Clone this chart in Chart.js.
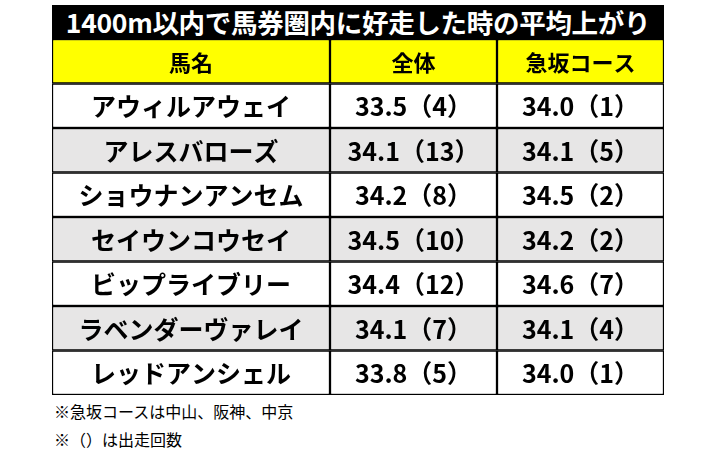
<!DOCTYPE html>
<html><head><meta charset="utf-8">
<script src="https://cdn.jsdelivr.net/npm/chart.js@4"></script>
<style>
body{margin:0;background:#fff;font-family:"Noto Sans CJK JP",sans-serif;}
#title{position:absolute;left:52px;top:5px;width:612px;height:34px;background:#000;color:#fff;font-weight:bold;font-size:26.5px;line-height:34px;text-align:center;letter-spacing:-0.3px;}
#wrap{position:absolute;left:51px;top:38px;width:614px;height:358px;}
.note{position:absolute;left:54px;font-size:16px;color:#000;}
</style></head><body>
<div id="title">1400m以内で馬券圏内に好走した時の平均上がり</div>
<div id="wrap"><canvas id="c"></canvas></div>
<div class="note" style="top:399px">※急坂コースは中山、阪神、中京</div>
<div class="note" style="top:427px">※（）は出走回数</div>
<script>
const headers = ["馬名", "全体", "急坂コース"];
const horses = ["アウィルアウェイ", "アレスバローズ", "ショウナンアンセム", "セイウンコウセイ", "ビップライブリー", "ラベンダーヴァレイ", "レッドアンシェル"];
const allAvg = [33.5, 34.1, 34.2, 34.5, 34.4, 34.1, 33.8];
const allRuns = [4, 13, 8, 10, 12, 7, 5];
const slopeAvg = [34.0, 34.1, 34.5, 34.2, 34.6, 34.1, 34.0];
const slopeRuns = [1, 5, 2, 2, 7, 4, 1];

const colWidths = [278, 167, 167];
const rowLabels = ["header", ...horses];
const fmt = (v, n) => v.toFixed(1) + "（" + n + "）";
const cellText = [
  [headers[0], ...horses],
  [headers[1], ...allAvg.map((v, i) => fmt(v, allRuns[i]))],
  [headers[2], ...slopeAvg.map((v, i) => fmt(v, slopeRuns[i]))]
];
const rowColor = rowLabels.map((r, i) => i === 0 ? "#ffff00" : (i % 2 === 0 ? "#e7e6e6" : "#ffffff"));

const textPlugin = {
  id: "cellText",
  afterDatasetsDraw(chart) {
    const ctx = chart.ctx;
    ctx.save();
    ctx.fillStyle = "#000";
    ctx.textAlign = "center";
    ctx.textBaseline = "middle";
    chart.data.datasets.forEach((ds, d) => {
      chart.getDatasetMeta(d).data.forEach((el, i) => {
        ctx.font = (i === 0 ? "bold 22px" : "bold 25px") + ' "Noto Sans CJK JP"';
        ctx.fillText(cellText[d][i], (el.x + el.base) / 2, el.y + 1);
      });
    });
    ctx.restore();
  }
};

new Chart(document.getElementById("c"), {
  type: "bar",
  data: {
    labels: rowLabels,
    datasets: colWidths.map(w => ({
      data: rowLabels.map(() => w),
      backgroundColor: rowColor,
      borderColor: "#000",
      borderWidth: 1.5,
      borderSkipped: false,
      barPercentage: 1,
      categoryPercentage: 1
    }))
  },
  options: {
    indexAxis: "y",
    responsive: true,
    maintainAspectRatio: false,
    animation: false,
    layout: { padding: 1 },
    plugins: { legend: { display: false }, tooltip: { enabled: false } },
    scales: {
      x: { stacked: true, min: 0, max: 612, display: false },
      y: { stacked: true, display: false }
    }
  },
  plugins: [textPlugin]
});
</script>
</body></html>
